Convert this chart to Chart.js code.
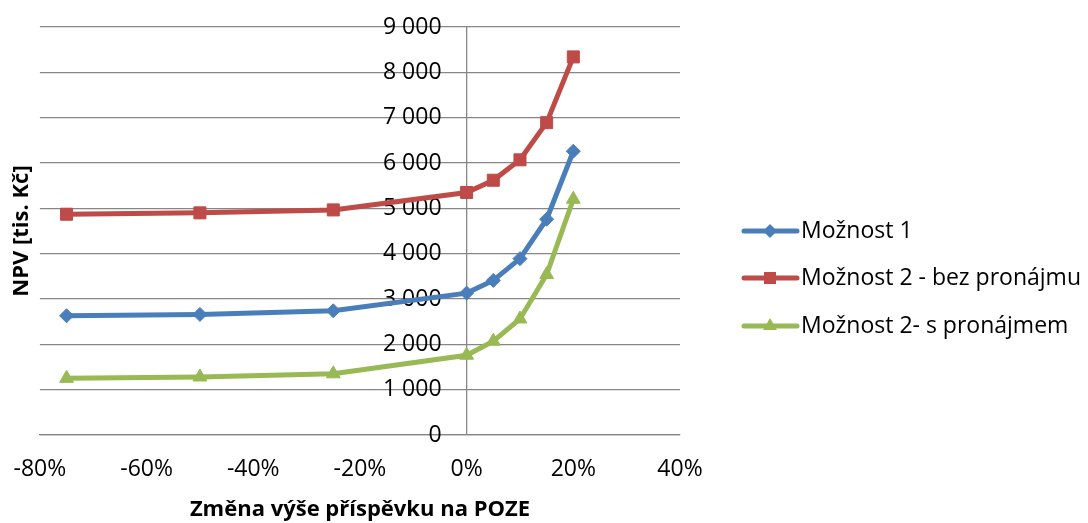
<!DOCTYPE html>
<html>
<head>
<meta charset="utf-8">
<script src="https://cdn.jsdelivr.net/npm/chart.js@4/dist/chart.umd.min.js"></script>
<style>
  html, body { margin: 0; padding: 0; background: #ffffff; }
  #wrap { width: 1088px; height: 523px; }
</style>
</head>
<body>
<div id="wrap"><canvas id="c" width="1088" height="523"></canvas></div>
<script>
// Změna výše příspěvku (v %)
const changes = [-75, -50, -25, 0, 5, 10, 15, 20];

// NPV v tis. Kč
const moznost1 = [2630, 2660, 2740, 3130, 3410, 3890, 4760, 6260];
const moznost2Bez = [4870, 4900, 4965, 5350, 5620, 6070, 6890, 8340];
const moznost2S = [1250, 1280, 1350, 1760, 2070, 2560, 3540, 5200];

const seriesNames = ['Možnost 1', 'Možnost 2 - bez pronájmu', 'Možnost 2- s pronájmem'];
const seriesColors = ['#4A7EBB', '#BE4B48', '#98B954'];
const seriesMarkers = ['rectRot', 'rect', 'triangle'];
const seriesRadius = [7, 8.5, 8];

const FONT = '"Open Sans", Lato, sans-serif';
const GRID = '#868686';
const NONE = 'rgba(0,0,0,0)';

function toPoints(values) {
  return changes.map((x, i) => ({ x: x, y: values[i] }));
}

function spaced(v) {
  return String(v).replace(/\B(?=(\d{3})+(?!\d))/g, ' ');
}

const allSeries = [moznost1, moznost2Bez, moznost2S];
const datasets = allSeries.map((vals, i) => ({
  label: seriesNames[i],
  data: toPoints(vals),
  borderColor: seriesColors[i],
  backgroundColor: seriesColors[i],
  borderWidth: 5,
  pointStyle: seriesMarkers[i],
  pointRadius: seriesRadius[i],
  pointHoverRadius: seriesRadius[i],
  pointBorderWidth: 1,
  pointBorderColor: seriesColors[i],
  pointBackgroundColor: seriesColors[i],
  tension: 0,
  yAxisID: 'y',
  xAxisID: 'x'
}));

// legend to the right: line with the series marker in the middle
function drawMarker(ctx, style, x, y, r, color) {
  ctx.save();
  ctx.fillStyle = color;
  ctx.beginPath();
  if (style === 'rectRot') {
    ctx.moveTo(x - r, y); ctx.lineTo(x, y - r); ctx.lineTo(x + r, y); ctx.lineTo(x, y + r);
  } else if (style === 'rect') {
    const s = r * Math.SQRT1_2;
    ctx.rect(x - s, y - s, 2 * s, 2 * s);
  } else {
    const w = r * Math.sqrt(3) / 2;
    ctx.moveTo(x, y - r); ctx.lineTo(x + w, y + r / 2); ctx.lineTo(x - w, y + r / 2);
  }
  ctx.closePath();
  ctx.fill();
  ctx.restore();
}

const sideLegend = {
  id: 'sideLegend',
  afterDraw(chart) {
    const ctx = chart.ctx;
    const rows = [231, 278, 326];
    chart.data.datasets.forEach((ds, i) => {
      const y = rows[i];
      ctx.save();
      ctx.strokeStyle = ds.borderColor;
      ctx.lineWidth = 5;
      ctx.lineCap = 'round';
      ctx.beginPath();
      ctx.moveTo(744, y);
      ctx.lineTo(797, y);
      ctx.stroke();
      ctx.restore();
      drawMarker(ctx, ds.pointStyle, 770, y, ds.pointRadius, ds.borderColor);
      ctx.save();
      ctx.fillStyle = '#000000';
      ctx.font = '23px ' + FONT;
      ctx.textBaseline = 'middle';
      ctx.textAlign = 'left';
      ctx.fillText(ds.label, 801, y);
      ctx.restore();
    });
  }
};

new Chart(document.getElementById('c'), {
  type: 'line',
  data: { datasets: datasets },
  plugins: [sideLegend],
  options: {
    responsive: false,
    animation: false,
    events: [],
    layout: { padding: { top: 27, right: 408, bottom: 0, left: 0 } },
    plugins: { legend: { display: false }, tooltip: { enabled: false } },
    scales: {
      x: {
        type: 'linear',
        position: 'bottom',
        min: -80, max: 40,
        ticks: {
          stepSize: 20,
          color: '#000000',
          font: { family: FONT, size: 23 },
          padding: 2,
          callback: (v) => v + '%'
        },
        // only the 0 % line is drawn: it is the vertical axis of the chart
        grid: {
          drawTicks: true,
          tickLength: 19,
          tickColor: NONE,
          lineWidth: 1.3,
          color: (c) => (c.tick && c.tick.value === 0 ? GRID : NONE)
        },
        border: { display: true, color: GRID, width: 1.3 },
        title: {
          display: true,
          text: 'Změna výše příspěvku na POZE',
          color: '#000000',
          font: { family: FONT, size: 22, weight: 'bold' },
          padding: { top: 11, bottom: 0 }
        }
      },
      y: {
        type: 'linear',
        // tick labels sit just left of the 0 % axis line
        position: { x: -4.7 },
        min: 0, max: 9000,
        ticks: {
          stepSize: 1000,
          color: '#000000',
          font: { family: FONT, size: 23 },
          callback: (v) => spaced(v)
        },
        grid: { color: GRID, lineWidth: 1.3, drawTicks: false },
        border: { display: false },
        afterFit: (s) => { s.width = 0; }
      },
      yTitle: {
        type: 'linear',
        position: 'left',
        display: true,
        ticks: { display: false },
        grid: { display: false, drawTicks: false },
        border: { display: false },
        title: {
          display: true,
          text: 'NPV [tis. Kč]',
          color: '#000000',
          font: { family: FONT, size: 22, weight: 'bold' },
          padding: { top: 9, bottom: 4.5 }
        }
      }
    }
  }
});
</script>
</body>
</html>
